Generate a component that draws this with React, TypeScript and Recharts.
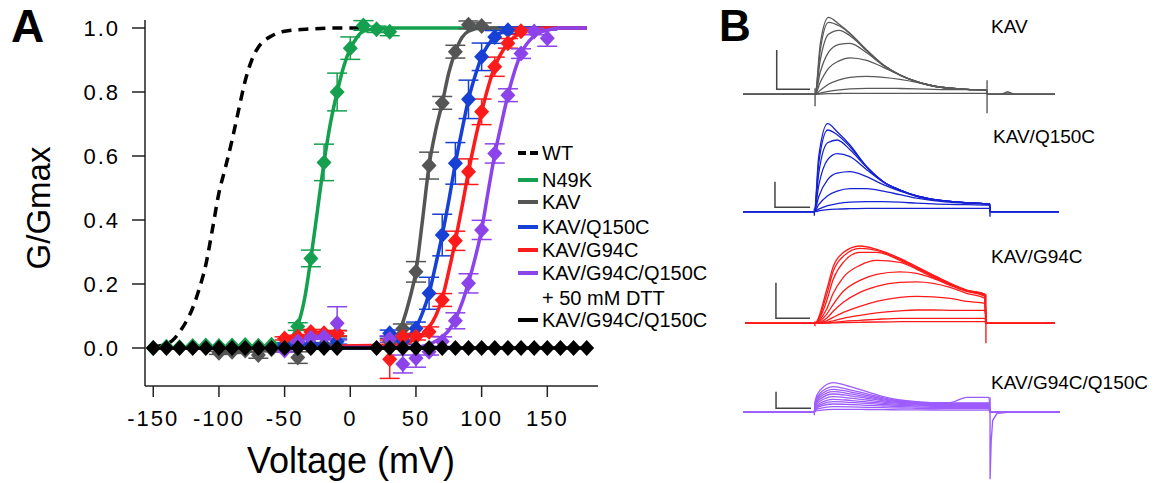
import React from 'react';
import { ComposedChart, LineChart, Line, XAxis, YAxis, ErrorBar, Label } from 'recharts';

const FONT = '"Liberation Sans", Arial, Helvetica, sans-serif';

const C_WT = '#000000';
const C_N49K = '#14a04e';
const C_KAV = '#555555';
const C_Q150 = '#1740d4';
const C_G94 = '#fb1b1b';
const C_DTT = '#8c44ea';
const C_DBL = '#000000';

// ---------------- Panel A data ----------------
const xTicks = [-150, -100, -50, 0, 50, 100, 150];
const yTicks = [0, 0.2, 0.4, 0.6, 0.8, 1.0];

const n49kV = [-150, -140, -130, -120, -110, -100, -90, -80, -70, -60, -50, -40, -30, -20, -10, 0, 10, 20, 30];
const n49kG = [0, 0.004, 0.002, 0.006, 0.008, 0.006, 0.008, 0.009, 0.007, 0.01, 0.012, 0.067, 0.28, 0.58, 0.8, 0.937, 1.008, 0.996, 0.988];
const n49kE = [0, 0, 0, 0, 0, 0, 0, 0, 0, 0, 0.005, 0.012, 0.026, 0.057, 0.059, 0.035, 0.015, 0.01, 0.012];

const kavV = [-100, -90, -80, -70, -60, -50, -40, -30, -20, -10, 30, 40, 50, 60, 70, 80, 90, 100];
const kavG = [-0.015, -0.012, -0.008, -0.022, -0.004, 0.002, -0.03, 0.004, 0.01, 0.045, 0.02, 0.06, 0.238, 0.57, 0.766, 0.926, 1.01, 1.006];
const kavE = [0.005, 0.005, 0.005, 0.01, 0.005, 0.005, 0.018, 0.005, 0.005, 0.01, 0.01, 0.015, 0.032, 0.042, 0.02, 0.02, 0.012, 0.01];

const q150V = [-50, -40, -30, -20, -10, 30, 40, 50, 60, 70, 80, 90, 100, 110, 120];
const q150G = [0.01, 0.006, 0.012, 0.006, 0.02, 0.046, 0.022, 0.061, 0.171, 0.353, 0.577, 0.777, 0.91, 0.972, 0.993];
const q150E = [0.005, 0.005, 0.005, 0.005, 0.008, 0.01, 0.01, 0.02, 0.05, 0.065, 0.065, 0.06, 0.043, 0.02, 0.01];

const g94V = [-50, -40, -30, -20, -10, 30, 40, 50, 60, 70, 80, 90, 100, 110, 120, 130];
const g94G = [0.03, 0.035, 0.05, 0.046, 0.046, -0.035, 0.035, 0.035, 0.051, 0.15, 0.335, 0.551, 0.738, 0.879, 0.952, 0.99];
const g94E = [0.005, 0.005, 0.008, 0.006, 0.008, 0.06, 0.01, 0.01, 0.015, 0.02, 0.03, 0.04, 0.04, 0.03, 0.015, 0.01];

const dttV = [-50, -40, -30, -20, -10, 30, 40, 50, 60, 70, 80, 90, 100, 110, 120, 130, 140, 150];
const dttG = [-0.008, 0.02, 0.032, 0.035, 0.077, 0.028, -0.05, -0.032, -0.012, 0.02, 0.085, 0.202, 0.369, 0.608, 0.79, 0.92, 0.989, 0.968];
const dttE = [0.005, 0.005, 0.005, 0.005, 0.052, 0.01, 0.028, 0.028, 0.01, 0.015, 0.025, 0.03, 0.03, 0.03, 0.02, 0.015, 0.01, 0.025];

const dblV = [-150, -140, -130, -120, -110, -100, -90, -80, -70, -60, -50, -40, -30, -20, -10, 20, 30, 40, 50, 60, 70, 80, 90, 100, 110, 120, 130, 140, 150, 160, 170, 180];
const dblG = [0, 0, 0, 0, 0, 0, 0, 0, 0, 0, 0, 0, 0, 0, 0, 0, 0, 0, 0, 0, 0, 0, 0, 0, 0, 0, 0, 0, 0, 0, 0, 0];

// fitted curves
const wtFitV = [-150, -140, -135, -130, -125, -120, -115, -110, -105, -100, -95, -90, -85, -80, -75, -70, -65, -60, -50, -30, -10, 10];
const wtFitG = [0.004, 0.012, 0.025, 0.05, 0.082, 0.125, 0.185, 0.26, 0.37, 0.485, 0.565, 0.65, 0.744, 0.835, 0.9, 0.94, 0.962, 0.975, 0.99, 0.997, 1.0, 1.0];
const n49kFitV = [-150, -60, -50, -45, -40, -35, -30, -25, -20, -15, -10, -5, 0, 5, 10, 20, 30, 180];
const n49kFitG = [0, 0.003, 0.012, 0.03, 0.07, 0.15, 0.28, 0.43, 0.58, 0.705, 0.8, 0.88, 0.935, 0.97, 0.99, 0.998, 1, 1];
const kavFitV = [-150, 20, 30, 35, 40, 45, 50, 55, 60, 65, 70, 75, 80, 85, 90, 100, 180];
const kavFitG = [0, 0, 0.005, 0.03, 0.08, 0.15, 0.24, 0.4, 0.57, 0.68, 0.765, 0.86, 0.926, 0.97, 0.99, 1, 1];
const q150FitV = [-150, 30, 40, 45, 50, 55, 60, 65, 70, 75, 80, 85, 90, 95, 100, 110, 120, 130, 180];
const q150FitG = [0, 0, 0.02, 0.04, 0.065, 0.11, 0.171, 0.26, 0.353, 0.46, 0.577, 0.68, 0.777, 0.85, 0.91, 0.972, 0.993, 1, 1];
const g94FitV = [-150, 40, 50, 55, 60, 65, 70, 75, 80, 85, 90, 95, 100, 110, 120, 130, 140, 150, 180];
const g94FitG = [0, 0.01, 0.03, 0.042, 0.065, 0.1, 0.155, 0.24, 0.335, 0.44, 0.551, 0.65, 0.738, 0.879, 0.952, 0.985, 0.996, 1, 1];
const dttFitV = [-150, 50, 60, 70, 75, 80, 85, 90, 95, 100, 105, 110, 115, 120, 130, 140, 150, 160, 180];
const dttFitG = [0, 0.002, 0.012, 0.035, 0.055, 0.09, 0.14, 0.205, 0.28, 0.37, 0.49, 0.605, 0.7, 0.79, 0.92, 0.975, 0.993, 1, 1];
const dblFitV = [-150, 180];
const dblFitG = [0, 0];

// ---------------- Panel B data (current traces, arbitrary units) ----------------
const kavT = [-41.9, 0, 3, 7.8, 14, 20.3, 30, 39.7, 49.4, 59.1, 68.8, 88.2, 99.5, 100.2, 139.5];
const kavTraces = [
  [0, 0, 50, 77, 70, 61, 44.3, 29.3, 19.3, 12.7, 8.3, 5, 4.3, 0, 0],
  [0, 0, 44, 72, 68.5, 60.5, 44, 29.3, 19.3, 12.7, 8.3, 5, 4.3, 0, 0],
  [0, 0, 34, 60, 64, 58.5, 43.5, 29.2, 19.3, 12.7, 8.3, 5, 4.3, 0, 0],
  [0, 0, 22, 42, 50, 51, 41.5, 28.8, 19.2, 12.7, 8.3, 5, 4.3, 0, 0],
  [0, 0, 12, 26, 33.5, 36.5, 34, 27, 19, 12.6, 8.3, 5, 4.3, 0, 0],
  [0, 0, 4, 10, 14.5, 17, 18, 17, 15, 12, 8, 5, 4.3, 0, 0],
  [0, 0, 1.2, 3, 4.5, 5.5, 6, 6, 5.8, 5.5, 5, 4.6, 4.3, 0, 0],
  [0, 0, 0.3, 0.6, 0.8, 1, 1, 1, 1, 1, 1, 1, 1, 0, 0],
];
const kavBarT = [-22.3, -22.3, -2.9];
const kavBarV = [44.3, 5, 5];
const kavArtT = [[0, 0], [100, 100], [108, 112, 116]];
const kavArtV = [[6, -12], [14, -19], [0, 2.5, 0]];

const q150T = [-40.6, 0, 2.5, 7.6, 13, 20.3, 29.8, 39.3, 48.8, 58.3, 67.7, 86.7, 99.6, 100.2, 139.3];
const q150Traces = [
  [0, 0, 55, 88, 80, 66.7, 45, 30, 21.7, 15.7, 12.3, 9, 7.7, 0, 0],
  [0, 0, 48, 81.7, 77, 65, 45, 30, 21.7, 15.7, 12.3, 9, 7.7, 0, 0],
  [0, 0, 38, 69, 71.7, 62, 44.5, 30, 21.7, 15.7, 12.3, 9, 7.7, 0, 0],
  [0, 0, 26, 52, 58, 55, 42, 29.5, 21.5, 15.7, 12.3, 9, 7.7, 0, 0],
  [0, 0, 15, 32, 38.5, 40, 35, 27, 20.5, 15.3, 12, 9, 7.7, 0, 0],
  [0, 0, 7, 16, 20.5, 23, 23, 20.5, 17, 13.5, 11, 8.5, 7.5, 0, 0],
  [0, 0, 2.5, 6, 8, 9.5, 10, 10, 9.5, 8.5, 7.8, 7, 6.5, 0, 0],
  [0, 0, 0.8, 2, 2.6, 3, 3.3, 3.3, 3.3, 3.3, 3.3, 3.3, 3.3, 0, 0],
];
const q150BarT = [-22.4, -22.4, -2.4];
const q150BarV = [30, 4.4, 4.4];
const q150ArtT = [[0, 0], [100, 100]];
const q150ArtV = [[3, -4], [8, -5]];

const g94T = [-40.9, 0, 6.8, 10.7, 16.6, 26.3, 36.1, 49.7, 59.5, 69.2, 79, 88.7, 99.4, 100.1, 140.4];
const g94Traces = [
  [0, 0, 33, 56.7, 70.7, 77.3, 74, 65, 56.7, 48.3, 40, 33.3, 29.3, 0, 0],
  [0, 0, 28, 52, 67, 75, 73, 64, 56, 48, 40, 33, 29, 0, 0],
  [0, 0, 22, 44, 61, 71, 71, 63, 55, 47, 39.5, 33, 28.5, 0, 0],
  [0, 0, 14, 30, 46, 58, 63, 61, 54, 46, 39, 32.5, 28, 0, 0],
  [0, 0, 9, 19, 32, 43, 49, 51.5, 50, 45, 38, 32, 27, 0, 0],
  [0, 0, 5, 12, 21, 31, 37, 41, 41.5, 40, 36, 30, 25, 0, 0],
  [0, 0, 2.5, 6, 11, 17, 22, 26, 27, 26.5, 25, 22, 20, 0, 0],
  [0, 0, 1, 2.5, 5, 8, 10.5, 12.5, 13.3, 13.3, 13, 13, 13, 0, 0],
  [0, 0, 0.5, 1, 2, 3, 4, 5, 5, 5, 5, 5, 5, 0, 0],
  [0, 0, 0.2, 0.4, 0.7, 1, 1.3, 1.6, 1.7, 1.7, 1.7, 1.7, 1.7, 0, 0],
];
const g94BarT = [-22.8, -22.8, -2.9];
const g94BarV = [40.6, 5, 5];
const g94ArtT = [[0, 0], [100, 100]];
const g94ArtV = [[2, -3], [29, -20]];

const dblT = [-40.6, 0, 0.5, 3.2, 10.8, 20.3, 29.8, 39.3, 48.8, 58.3, 67.7, 77.2, 86.7, 99.4, 100, 139.8];
const dblTraces = [
  [0, 0, 12, 22, 29.7, 25.7, 20.7, 15.7, 12.3, 10.7, 9.7, 9.7, 15, 15, 0, 0],
  [0, 0, 10, 19, 25.7, 22.5, 18.5, 14.5, 11.5, 10, 9.3, 9.2, 9.5, 9.5, 0, 0],
  [0, 0, 9, 17, 23, 20.5, 17, 13.5, 11, 9.7, 9, 8.8, 9, 9, 0, 0],
  [0, 0, 8, 15, 20.7, 18.5, 15.5, 12.5, 10.5, 9.3, 8.6, 8.4, 8.5, 8.5, 0, 0],
  [0, 0, 7, 13, 18.3, 16.5, 14, 11.5, 9.8, 8.8, 8.2, 8, 8, 8, 0, 0],
  [0, 0, 6, 11, 15.7, 14.2, 12.3, 10.3, 9, 8.2, 7.6, 7.4, 7.4, 7.4, 0, 0],
  [0, 0, 5, 9, 13, 12, 10.5, 9, 8, 7.3, 6.8, 6.6, 6.6, 6.6, 0, 0],
  [0, 0, 4, 7.5, 10.7, 10, 9, 7.8, 7, 6.5, 6, 5.8, 5.8, 5.8, 0, 0],
  [0, 0, 3, 6, 8.3, 7.8, 7, 6.3, 5.7, 5.3, 5, 4.8, 4.8, 4.8, 0, 0],
  [0, 0, 2, 4, 5.7, 5.5, 5, 4.6, 4.3, 4, 3.8, 3.7, 3.7, 3.7, 0, 0],
  [0, 0, 1, 2, 3, 3, 2.8, 2.6, 2.5, 2.4, 2.3, 2.2, 2.2, 2.2, 0, 0],
];
const dblBarT = [-21.8, -21.8, -1.9];
const dblBarV = [20.6, 4, 4];
const dblArtT = [[0, 0], [100, 100, 100.6, 101.5, 104, 110]];
const dblArtV = [[2, -3], [15, -67, -30, -8, -1, 0]];

// ---------------- helpers ----------------
const pts = (xs: number[], ys: number[], es?: number[]) =>
  xs.map((x, i) => ({ x, y: ys[i], e: es ? es[i] : 0 }));
const tv = (ts: number[], vs: number[]) => ts.map((t, i) => ({ t, v: vs[i] }));

const diamond = (color: string) => (p: any) => {
  const { cx, cy, index } = p;
  if (cx == null || cy == null || isNaN(cx) || isNaN(cy)) return <g key={`n${index}`} />;
  return (
    <polygon
      key={`d${index}`}
      points={`${cx},${cy - 8} ${cx + 7.5},${cy} ${cx},${cy + 8} ${cx - 7.5},${cy}`}
      fill={color}
    />
  );
};

type Series = { name: string; color: string; fitV: number[]; fitG: number[]; v?: number[]; g?: number[]; e?: number[]; dash?: string };
const seriesA: Series[] = [
  { name: 'WT', color: C_WT, fitV: wtFitV, fitG: wtFitG, dash: '10 7' },
  { name: 'N49K', color: C_N49K, fitV: n49kFitV, fitG: n49kFitG, v: n49kV, g: n49kG, e: n49kE },
  { name: 'KAV', color: C_KAV, fitV: kavFitV, fitG: kavFitG, v: kavV, g: kavG, e: kavE },
  { name: 'KAV/Q150C', color: C_Q150, fitV: q150FitV, fitG: q150FitG, v: q150V, g: q150G, e: q150E },
  { name: 'KAV/G94C', color: C_G94, fitV: g94FitV, fitG: g94FitG, v: g94V, g: g94G, e: g94E },
  { name: 'KAV/G94C/Q150C + DTT', color: C_DTT, fitV: dttFitV, fitG: dttFitG, v: dttV, g: dttG, e: dttE },
  { name: 'KAV/G94C/Q150C', color: C_DBL, fitV: dblFitV, fitG: dblFitG, v: dblV, g: dblG },
];

const legendRows = [
  { label: 'WT', color: C_WT, dashed: true, cy: 153 },
  { label: 'N49K', color: C_N49K, cy: 180 },
  { label: 'KAV', color: C_KAV, cy: 202 },
  { label: 'KAV/Q150C', color: C_Q150, cy: 227 },
  { label: 'KAV/G94C', color: C_G94, cy: 250 },
  { label: 'KAV/G94C/Q150C', color: C_DTT, cy: 273 },
  { label: '+ 50 mM DTT', color: '', cy: 298 },
  { label: 'KAV/G94C/Q150C', color: C_DBL, cy: 320 },
];

const tickStyle = { fontSize: 22, fill: '#000', fontFamily: FONT, letterSpacing: 2 };

function PanelA() {
  return (
    <div style={{ position: 'absolute', left: 0, top: 0 }}>
      <ComposedChart width={700} height={483} margin={{ top: 20, right: 102, bottom: 67, left: 85 }}>
        <XAxis
          type="number"
          dataKey="x"
          domain={[-156.3, 188.6]}
          ticks={xTicks}
          interval={0}
          height={30}
          tickSize={11}
          tickMargin={13}
          tick={tickStyle}
          axisLine={{ stroke: '#222', strokeWidth: 1.5 }}
          tickLine={{ stroke: '#222', strokeWidth: 1.5 }}
        >
          <Label
            content={() => (
              <text x={351} y={473} textAnchor="middle" fontSize={36} fontFamily={FONT} fill="#000">
                Voltage (mV)
              </text>
            )}
          />
        </XAxis>
        <YAxis
          type="number"
          domain={[-0.11875, 1.025]}
          ticks={yTicks}
          interval={0}
          width={60}
          tickSize={13}
          tickMargin={12}
          tick={tickStyle}
          tickFormatter={(v: number) => v.toFixed(1)}
          axisLine={{ stroke: '#222', strokeWidth: 1.5 }}
          tickLine={{ stroke: '#222', strokeWidth: 1.5 }}
        >
          <Label
            content={() => (
              <text
                x={50}
                y={208}
                transform="rotate(-90, 50, 208)"
                textAnchor="middle"
                fontSize={33}
                fontFamily={FONT}
                fill="#000"
              >
                G/Gmax
              </text>
            )}
          />
        </YAxis>
        {seriesA.flatMap((s) => {
          const items = [
            <Line
              key={`fit-${s.name}`}
              data={pts(s.fitV, s.fitG)}
              dataKey="y"
              type="monotone"
              stroke={s.color}
              strokeWidth={3.5}
              strokeDasharray={s.dash}
              dot={false}
              activeDot={false}
              isAnimationActive={false}
            />,
          ];
          if (s.v && s.g) {
            items.push(
              <Line
                key={`pts-${s.name}`}
                data={pts(s.v, s.g, s.e)}
                dataKey="y"
                stroke="none"
                dot={diamond(s.color)}
                activeDot={false}
                isAnimationActive={false}
              >
                {s.e ? (
                  <ErrorBar dataKey="e" direction="y" width={10} strokeWidth={1.5} stroke={s.color} />
                ) : null}
              </Line>
            );
          }
          return items;
        })}
      </ComposedChart>
    </div>
  );
}

type TraceProps = {
  left: number; top: number; width: number; height: number;
  tDomain: [number, number]; yDomain: [number, number];
  times: number[]; traces: number[][]; color: string;
  barT: number[]; barV: number[]; artT: number[][]; artV: number[][];
};

function TracePanel(p: TraceProps) {
  return (
    <div style={{ position: 'absolute', left: p.left, top: p.top }}>
      <LineChart width={p.width} height={p.height} margin={{ top: 0, right: 0, bottom: 0, left: 0 }}>
        <XAxis type="number" dataKey="t" domain={p.tDomain} hide allowDataOverflow />
        <YAxis type="number" domain={p.yDomain} hide allowDataOverflow />
        {p.traces.slice().reverse().map((vals, i) => (
          <Line
            key={`tr${i}`}
            data={tv(p.times, vals)}
            dataKey="v"
            type="monotone"
            stroke={p.color}
            strokeWidth={1.3}
            dot={false}
            activeDot={false}
            isAnimationActive={false}
          />
        ))}
        {p.artT.map((ts, i) => (
          <Line
            key={`art${i}`}
            data={tv(ts, p.artV[i])}
            dataKey="v"
            type="linear"
            stroke={p.color}
            strokeWidth={1.4}
            dot={false}
            activeDot={false}
            isAnimationActive={false}
          />
        ))}
        <Line
          data={tv(p.barT, p.barV)}
          dataKey="v"
          type="linear"
          stroke="#444"
          strokeWidth={1.5}
          dot={false}
          activeDot={false}
          isAnimationActive={false}
        />
      </LineChart>
    </div>
  );
}

const bLabel = (text: string, left: number, cy: number) => (
  <div
    style={{
      position: 'absolute', left, top: cy - 11, height: 22, lineHeight: '22px',
      fontSize: 19, fontFamily: FONT, color: '#000', whiteSpace: 'nowrap',
    }}
  >
    {text}
  </div>
);

export default function App() {
  return (
    <div style={{ position: 'absolute', left: 0, top: 0, width: 1175, height: 483, background: '#fff', fontFamily: FONT, overflow: 'hidden' }}>
      <PanelA />
      {legendRows.map((r, i) => (
        <div key={i} style={{ position: 'absolute', left: 518, top: r.cy - 12, height: 24, display: 'flex', alignItems: 'center', whiteSpace: 'nowrap' }}>
          <svg width={24} height={24} style={{ display: 'block' }}>
            {r.color ? (
              <line x1={0} y1={12} x2={20} y2={12} stroke={r.color} strokeWidth={4} strokeDasharray={r.dashed ? '8 4' : undefined} />
            ) : null}
          </svg>
          <span style={{ fontSize: 20, fontFamily: FONT, color: '#000', lineHeight: '24px' }}>{r.label}</span>
        </div>
      ))}
      <div style={{ position: 'absolute', left: 11, top: 0, fontSize: 46, fontWeight: 'bold', fontFamily: FONT, lineHeight: '52px' }}>A</div>
      <div style={{ position: 'absolute', left: 719, top: 0, fontSize: 44, fontWeight: 'bold', fontFamily: FONT, lineHeight: '52px' }}>B</div>

      <TracePanel left={743} top={14} width={312} height={104} tDomain={[-41.9, 139.5]} yDomain={[-23.7, 80.3]}
        times={kavT} traces={kavTraces} color="#595959" barT={kavBarT} barV={kavBarV} artT={kavArtT} artV={kavArtV} />
      <TracePanel left={743} top={118} width={316} height={102} tDomain={[-40.6, 139.3]} yDomain={[-8.3, 93.7]}
        times={q150T} traces={q150Traces} color="#1622d2" barT={q150BarT} barV={q150BarV} artT={q150ArtT} artV={q150ArtV} />
      <TracePanel left={745} top={240} width={310} height={110} tDomain={[-40.9, 140.4]} yDomain={[-26.7, 83.3]}
        times={g94T} traces={g94Traces} color="#ff1a1a" barT={g94BarT} barV={g94BarV} artT={g94ArtT} artV={g94ArtV} />
      <TracePanel left={743} top={378} width={317} height={105} tDomain={[-40.6, 139.8]} yDomain={[-70.7, 34.3]}
        times={dblT} traces={dblTraces} color="#9d5cff" barT={dblBarT} barV={dblBarV} artT={dblArtT} artV={dblArtV} />

      {bLabel('KAV', 991, 27)}
      {bLabel('KAV/Q150C', 993, 137)}
      {bLabel('KAV/G94C', 991, 257)}
      {bLabel('KAV/G94C/Q150C', 991, 383)}
    </div>
  );
}
